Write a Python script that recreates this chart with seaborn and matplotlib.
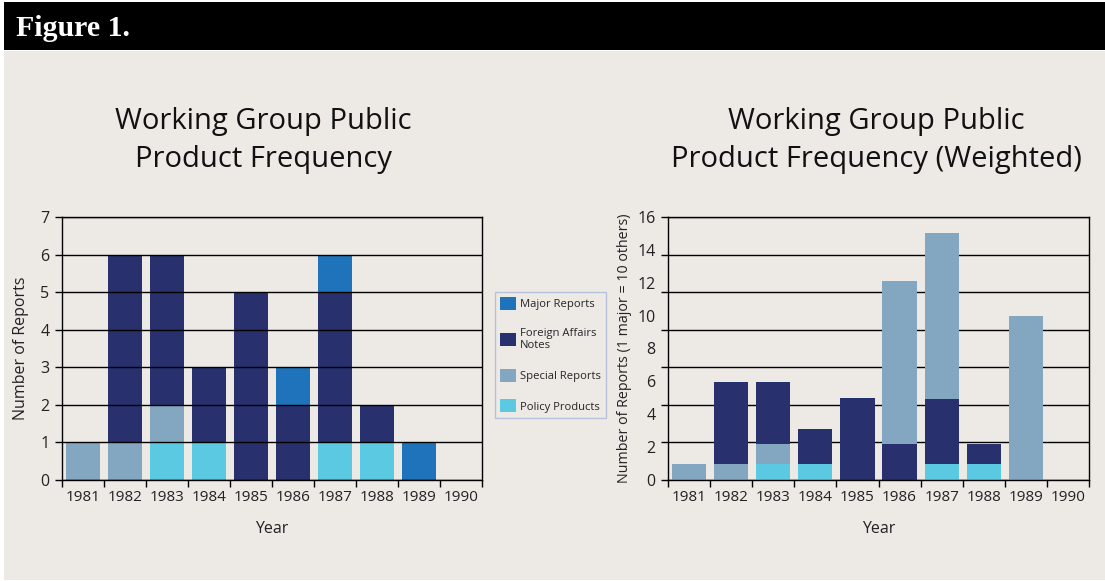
import numpy as np
import pandas as pd
import matplotlib
matplotlib.use('Agg')
import matplotlib.pyplot as plt
import seaborn as sns
from matplotlib.patches import Rectangle, Patch

years = ['1981', '1982', '1983', '1984', '1985', '1986', '1987', '1988', '1989', '1990']
colors = {'Major Reports': '#1f73ba', 'Foreign Affairs\nNotes': '#28306d',
          'Special Reports': '#84a7c1', 'Policy Products': '#5bc9e1'}

# raw counts (left chart)
policy = [0, 0, 1, 1, 0, 0, 1, 1, 0, 0]
special = [1, 1, 1, 0, 0, 0, 0, 0, 0, 0]
fan = [0, 5, 4, 2, 5, 2, 4, 1, 0, 0]
major = [0, 0, 0, 0, 0, 1, 1, 0, 1, 0]

# weighted (right chart)
w_policy = [0, 0, 1.0, 1.0, 0, 0, 1.0, 0.95, 0, 0]
w_special = [1.0, 1.0, 1.2, 0, 0, 0, 0, 0, 0, 0]
w_fan = [0, 4.95, 3.75, 2.1, 5.0, 2.2, 3.9, 1.25, 0, 0]
w_major = [0, 0, 0, 0, 0, 9.9, 10.15, 0, 10.0, 0]

bg = '#ede9e5'
sns.set_theme(style='white')
plt.rcParams['font.family'] = ['Open Sans', 'DejaVu Sans']

fig = plt.figure(figsize=(11.05, 5.81), dpi=100, facecolor='white')
fig.patches.append(Rectangle((4 / 1105, 1 - 580 / 581), 1, (580 - 51) / 581, transform=fig.transFigure,
                             facecolor=bg, edgecolor='none', zorder=-2))
fig.patches.append(Rectangle((4 / 1105, 1 - 50 / 581), 1, 48 / 581, transform=fig.transFigure,
                             facecolor='black', edgecolor='none', zorder=-2))
fig.text(16 / 1105, 1 - 29 / 581, 'Figure 1.', color='white', fontsize=21.5, fontweight='bold',
         family='Liberation Serif', va='center', ha='left')


def stacked(ax, layers, layer_colors, grid_on_top):
    # draw cumulative totals from the top layer down so each lower layer overlays
    cum = np.cumsum(np.array(layers, dtype=float), axis=0)
    for i in range(len(layers) - 1, -1, -1):
        df = pd.DataFrame({'year': years, 'value': cum[i]})
        sns.barplot(data=df, x='year', y='value', color=layer_colors[i], saturation=1,
                    width=0.81, ax=ax, zorder=1, edgecolor='none', linewidth=0)
    ax.set_facecolor(bg)
    ax.set_axisbelow(not grid_on_top)
    for s in ax.spines.values():
        s.set_color('black')
        s.set_linewidth(1)
    ax.set_xlim(-0.5, len(years) - 0.5)
    ax.set_xticks(np.arange(-0.5, len(years), 1.0))
    ax.set_xticklabels([])
    ax.set_xticks(range(len(years)), minor=True)
    ax.set_xticklabels(years, minor=True)
    ax.tick_params(axis='x', which='major', direction='out', length=5, width=1, color='black', bottom=True)
    ax.tick_params(axis='x', which='minor', length=0, pad=7, labelsize=11, labelcolor='#222222')
    ax.set_xlabel('Year', fontsize=11.5, labelpad=12, color='#222222')


ax1 = fig.add_axes([62 / 1105, 1 - 480 / 581, 420 / 1105, 263 / 581])
stacked(ax1, [policy, special, fan, major],
        [colors['Policy Products'], colors['Special Reports'], colors['Foreign Affairs\nNotes'], colors['Major Reports']],
        True)
ax1.set_ylim(0, 7)
ax1.set_yticks(range(0, 8))
ax1.grid(axis='y', color='black', linewidth=1)
ax1.tick_params(axis='y', direction='out', length=5, width=1, color='black', left=True, labelsize=11.5,
                labelcolor='#222222', pad=4)
ax1.set_ylabel('Number of Reports', fontsize=11.5, color='#222222')
ax1.yaxis.set_label_coords(-0.079, 0.5)
ax1.set_title('Working Group Public\nProduct Frequency', fontsize=21, pad=36, color='#111111',
              linespacing=1.4, x=0.479)

ax2 = fig.add_axes([668 / 1105, 1 - 480 / 581, 421 / 1105, 263 / 581])
stacked(ax2, [w_policy, w_special, w_fan, w_major],
        [colors['Policy Products'], colors['Special Reports'], colors['Foreign Affairs\nNotes'], colors['Special Reports']],
        False)
ax2.set_ylim(0, 16)
# grid lines sit at sevenths of the range while labels run every 2
ax2.yaxis.remove_overlapping_locs = False
ax2.set_yticks(np.linspace(0, 16, 8))
ax2.set_yticklabels([])
ax2.set_yticks(np.arange(0, 17, 2), minor=True)
ax2.set_yticklabels([str(v) for v in range(0, 17, 2)], minor=True)
ax2.grid(axis='y', which='major', color='black', linewidth=1)
ax2.tick_params(axis='y', which='major', direction='out', length=5, width=1, color='black', left=True)
ax2.tick_params(axis='y', which='minor', length=0, pad=9, labelsize=11.5, labelcolor='#222222')
ax2.set_ylabel('Number of Reports (1 major = 10 others)', fontsize=10.3, color='#222222')
ax2.yaxis.set_label_coords(-0.085, 0.5)
ax2.set_title('Working Group Public\nProduct Frequency (Weighted)', fontsize=21, pad=36, color='#111111',
              linespacing=1.4, x=0.495)

labels = ['Major Reports', 'Foreign Affairs\nNotes', 'Special Reports', 'Policy Products']
handles = [Patch(facecolor=colors[k], edgecolor='none') for k in labels]
leg = fig.legend(handles, labels, loc='upper left', bbox_to_anchor=(495 / 1105, 1 - 292 / 581), fontsize=8.1,
                 frameon=True, fancybox=False, handlelength=1.4, handleheight=1.4, labelspacing=1.55,
                 borderpad=0.45, handletextpad=0.35, borderaxespad=0)
leg.get_frame().set_edgecolor('#a9b7da')
leg.get_frame().set_facecolor(bg)
leg.get_frame().set_linewidth(1)

fig.savefig('out.png', dpi=100, facecolor='white')
